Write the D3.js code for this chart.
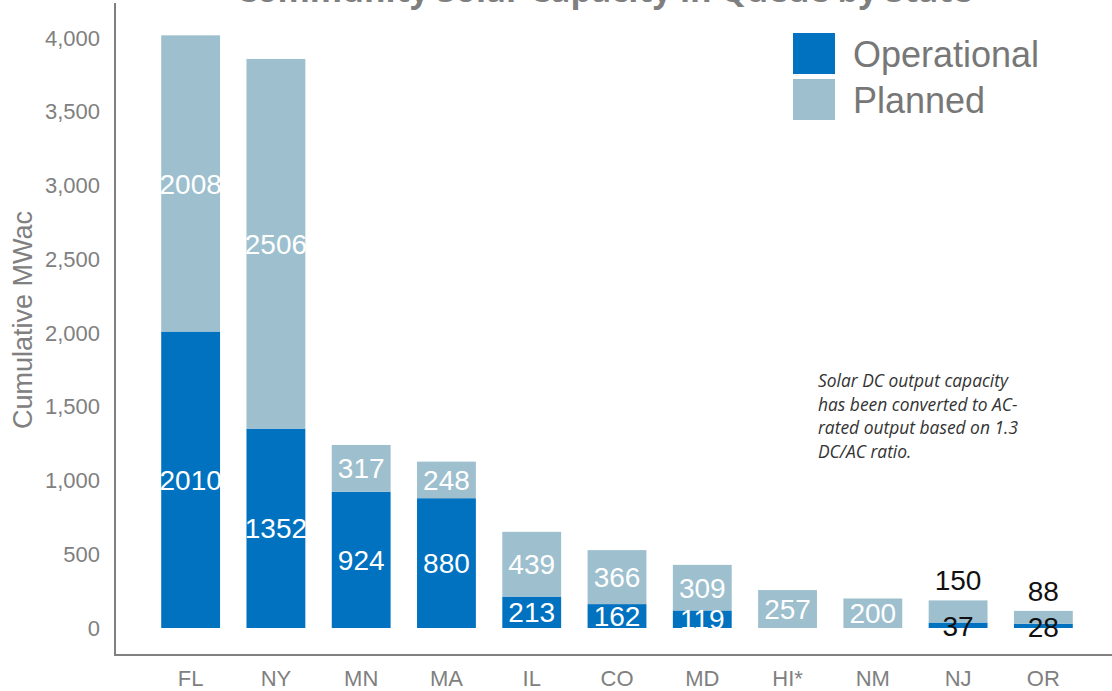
<!DOCTYPE html>
<html>
<head>
<meta charset="utf-8">
<script src="https://cdn.jsdelivr.net/npm/d3@7/dist/d3.min.js"></script>
<style>
  html, body { margin: 0; padding: 0; background: #fff; }
  svg { display: block; }
</style>
</head>
<body>
<svg id="chart" width="1112" height="691"></svg>
<script>
// Community solar capacity by state (MWac)
const states      = ["FL", "NY", "MN", "MA", "IL", "CO", "MD", "HI*", "NM", "NJ", "OR"];
const operational = [2010, 1352, 924, 880, 213, 162, 119, 0, 0, 37, 28];
const planned     = [2008, 2506, 317, 248, 439, 366, 309, 257, 200, 150, 88];
const yTicks      = [0, 500, 1000, 1500, 2000, 2500, 3000, 3500, 4000];
const seriesNames = ["Operational", "Planned"];
const noteLines   = [
  "Solar DC output capacity",
  "has been converted to AC-",
  "rated output based on 1.3",
  "DC/AC ratio."
];
// states whose bars are too short for inside labels
const outsideLabelStates = ["NJ", "OR"];

const colors = { Operational: "#0072BF", Planned: "#9DBFCE" };
const axisGray = "#808080";

const svg = d3.select("#chart");
const W = 1112, H = 691;

const x = d3.scaleBand()
  .domain(states)
  .range([148, 1086])
  .paddingInner(0.31)
  .paddingOuter(0.155);

const y = d3.scaleLinear()
  .domain([0, 4000])
  .range([628, 38]);

const rows = states.map((s, i) => ({ state: s, Operational: operational[i], Planned: planned[i] }));
const stacked = d3.stack().keys(seriesNames)(rows);

// Title (sits at the very top edge)
svg.append("text")
  .attr("x", 604)
  .attr("y", 2)
  .attr("text-anchor", "middle")
  .attr("font-family", "'Open Sans', 'Noto Sans', sans-serif")
  .attr("font-weight", "bold")
  .attr("font-size", 33)
  .attr("fill", "#7F7F7F")
  .text("Community Solar Capacity in Queue by State");

// Bars
const layers = svg.append("g").selectAll("g")
  .data(stacked)
  .join("g")
  .attr("fill", d => colors[d.key]);

layers.selectAll("rect")
  .data(d => d)
  .join("rect")
  .attr("x", d => x(d.data.state))
  .attr("width", x.bandwidth())
  .attr("y", d => y(d[1]))
  .attr("height", d => Math.max(0, y(d[0]) - y(d[1])));

// Value labels
const labelFont = "'Liberation Sans', Arial, sans-serif";
const labels = svg.append("g")
  .attr("font-family", labelFont)
  .attr("font-size", 28)
  .attr("text-anchor", "middle");

stacked.forEach(layer => {
  layer.forEach(d => {
    const v = d[1] - d[0];
    if (v <= 0) return;
    const s = d.data.state;
    const cx = x(s) + x.bandwidth() / 2;
    const outside = outsideLabelStates.includes(s);
    let cy;
    if (outside && layer.key === "Planned") {
      cy = y(d[1]) - 20;
    } else if (outside) {
      cy = (y(d[0]) + y(d[1])) / 2 + 1;
    } else {
      cy = (y(d[0]) + y(d[1])) / 2;
    }
    labels.append("text")
      .attr("x", cx)
      .attr("y", cy)
      .attr("dy", "0.36em")
      .attr("fill", outside ? "#111" : "#fff")
      .text(v);
  });
});

// Y axis
const yAxis = d3.axisLeft(y)
  .tickValues(yTicks)
  .tickSize(0)
  .tickPadding(15)
  .tickFormat(d3.format(","));

const gy = svg.append("g")
  .attr("transform", "translate(115,0)")
  .call(yAxis);
gy.select(".domain").remove();
gy.selectAll("text")
  .attr("font-family", labelFont)
  .attr("font-size", 22)
  .attr("fill", axisGray);

// X axis labels
const xAxis = d3.axisBottom(x).tickSize(0).tickPadding(15);
const gx = svg.append("g")
  .attr("transform", "translate(0,655)")
  .call(xAxis);
gx.select(".domain").remove();
gx.selectAll("text")
  .attr("font-family", labelFont)
  .attr("font-size", 22)
  .attr("fill", axisGray);

// Axis lines
svg.append("line")
  .attr("x1", 115).attr("x2", 115)
  .attr("y1", 3).attr("y2", 656)
  .attr("stroke", axisGray).attr("stroke-width", 2);
svg.append("line")
  .attr("x1", 114).attr("x2", W)
  .attr("y1", 655).attr("y2", 655)
  .attr("stroke", axisGray).attr("stroke-width", 2);

// Y axis title
svg.append("text")
  .attr("transform", "translate(32,320) rotate(-90)")
  .attr("text-anchor", "middle")
  .attr("font-family", labelFont)
  .attr("font-size", 27)
  .attr("fill", axisGray)
  .text("Cumulative MWac");

// Legend
const legend = svg.append("g").attr("transform", "translate(793,33)");
seriesNames.forEach((name, i) => {
  const g = legend.append("g").attr("transform", `translate(0,${i * 46})`);
  g.append("rect")
    .attr("width", 42).attr("height", 41)
    .attr("fill", colors[name]);
  g.append("text")
    .attr("x", 60)
    .attr("y", 21)
    .attr("dy", "0.36em")
    .attr("font-family", labelFont)
    .attr("font-size", 36)
    .attr("fill", "#777")
    .text(name);
});

// Note
const note = svg.append("text")
  .attr("font-family", "'Open Sans', 'Noto Sans', sans-serif")
  .attr("font-style", "italic")
  .attr("font-size", 17.4)
  .attr("fill", "#333");
noteLines.forEach((line, i) => {
  note.append("tspan")
    .attr("x", 818)
    .attr("y", 387 + i * 23.6)
    .text(line);
});
</script>
</body>
</html>
